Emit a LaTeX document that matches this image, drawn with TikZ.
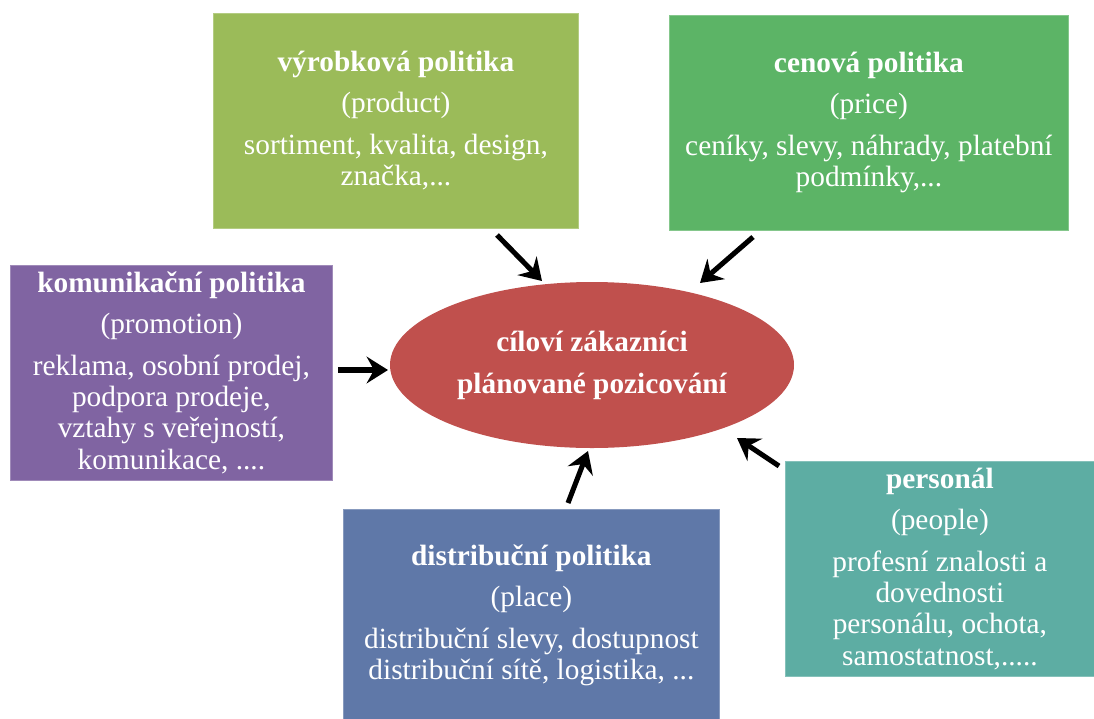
\documentclass[tikz,border=0pt]{standalone}
\usepackage{fontspec}
\setmainfont{Liberation Serif}
\usetikzlibrary{shapes.geometric,arrows.meta}
\definecolor{prodc}{HTML}{9BBB59}
\definecolor{pricec}{HTML}{5CB466}
\definecolor{promc}{HTML}{8064A2}
\definecolor{distc}{HTML}{5F78A8}
\definecolor{peopc}{HTML}{5DADA3}
\definecolor{ellc}{HTML}{C0504D}
\newcommand\boxfont{\fontsize{22}{23.5}\selectfont}
\tikzset{
  mbox/.style={draw=#1!75!white, fill=#1, line width=0.6pt, text=white,
    align=center, inner sep=0pt, font=\boxfont, anchor=north west},
  arr/.style={line width=3.8pt, -{Stealth[length=16pt,width=20pt,inset=5.5pt]}},
}
\begin{document}
\begin{tikzpicture}[x=0.75pt,y=-0.75pt]
\useasboundingbox (0,0) rectangle (1094,718);
\node[mbox=prodc, minimum width=273.75pt, minimum height=161.25pt] (prod) at (213,13)
  {\textbf{výrobková politika}\\[7pt](product)\\[8pt]sortiment, kvalita, design,\\značka,...};
\node[mbox=pricec, minimum width=299.25pt, minimum height=161.25pt] (price) at (669,15)
  {\textbf{cenová politika}\\[7pt](price)\\[8pt]ceníky, slevy, náhrady, platební\\podmínky,...};
\node[mbox=promc, minimum width=241.5pt, minimum height=161.25pt] (prom) at (10,265)
  {\textbf{komunikační politika}\\[7pt](promotion)\\[8pt]reklama, osobní prodej,\\podpora prodeje,\\vztahy s veřejností,\\komunikace, ....};
\node[mbox=distc, minimum width=282pt, minimum height=159pt] (dist) at (343,509)
  {\textbf{distribuční politika}\\[7pt](place)\\[8pt]distribuční slevy, dostupnost\\distribuční sítě, logistika, ...};
\node[mbox=peopc, minimum width=231.75pt, minimum height=161.25pt] (peop) at (785,461)
  {\textbf{personál}\\[7pt](people)\\[8pt]profesní znalosti a\\dovednosti\\personálu, ochota,\\samostatnost,.....};
\node[ellipse, fill=ellc, text=white, inner sep=0pt, align=center, font=\boxfont\bfseries,
  minimum width=303pt, minimum height=124.5pt] (ell) at (592,365)
  {cíloví zákazníci\\[8pt]plánované pozicování};
\coordinate (a1) at (497,235); \coordinate (b1) at (542,281);
\coordinate (a2) at (753,237); \coordinate (b2) at (700,283);
\coordinate (a3) at (338,370); \coordinate (b3) at (388,370);
\coordinate (a4) at (568,503); \coordinate (b4) at (588,451);
\coordinate (a5) at (779,466); \coordinate (b5) at (737,438);
\draw[arr] (a1) -- (b1);
\draw[arr] (a2) -- (b2);
\draw[arr] (a3) -- (b3);
\draw[arr] (a4) -- (b4);
\draw[arr] (a5) -- (b5);
\end{tikzpicture}
\end{document}
